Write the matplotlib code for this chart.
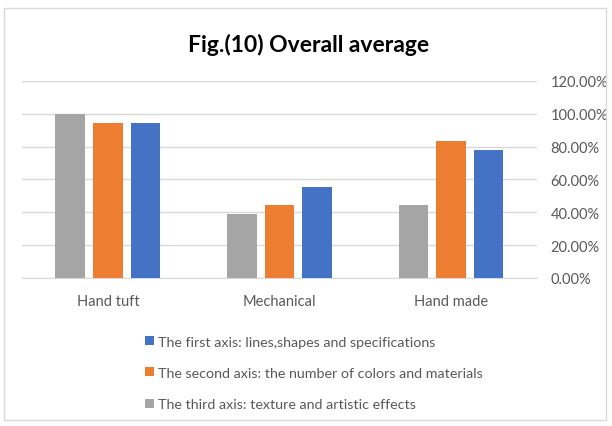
import matplotlib
matplotlib.use("Agg")
import matplotlib.pyplot as plt
import numpy as np
from matplotlib.patches import Rectangle
from matplotlib.ticker import FuncFormatter

categories = ["Hand tuft", "Mechanical", "Hand made"]
third_axis = [100.0, 38.8, 44.6]
second_axis = [94.2, 44.6, 83.4]
first_axis = [94.2, 55.5, 77.7]
series_names = [
    "The third axis: texture and artistic effects",
    "The second axis: the number of colors and materials",
    "The first axis: lines,shapes and specifications",
]
colors = ["#A5A5A5", "#ED7D31", "#4472C4"]
yticks = [0, 20, 40, 60, 80, 100, 120]

plt.rcParams["font.family"] = ["Lato", "DejaVu Sans"]

fig = plt.figure(figsize=(6.12, 4.27), dpi=100)
fig.patches.append(Rectangle((0.006, 0.015), 0.985, 0.965, transform=fig.transFigure,
                             fill=False, edgecolor="#D9D9D9", linewidth=1.0))
ax = fig.add_axes([0.036, 0.347, 0.841, 0.461])

x = np.arange(len(categories))
width = 0.172
step = 0.219
bars = []
for i, (vals, c) in enumerate(zip([third_axis, second_axis, first_axis], colors)):
    b = ax.bar(x + (i - 1) * step, vals, width, color=c, label=series_names[i], zorder=3)
    bars.append(b)

ax.set_xlim(-0.5, 2.5)
ax.set_ylim(0, 120)
ax.set_yticks(yticks)
ax.yaxis.set_major_formatter(FuncFormatter(lambda v, p: f"{v:.2f}%"))
ax.yaxis.tick_right()
ax.grid(axis="y", color="#D9D9D9", linewidth=1.0, zorder=0)
for s in ["top", "left", "right"]:
    ax.spines[s].set_visible(False)
ax.spines["bottom"].set_color("#D9D9D9")
ax.tick_params(axis="y", length=0, labelsize=10.5, labelcolor="#595959", pad=10)
ax.tick_params(axis="x", length=0, labelsize=10.5, labelcolor="#595959", pad=12)
ax.set_xticks(x)
ax.set_xticklabels(categories)

fig.text(0.505, 0.895, "Fig.(10) Overall average", ha="center", va="center",
         fontsize=16.5, fontweight="bold", color="#000000")

handles = [bars[2], bars[1], bars[0]]
labels = [series_names[2], series_names[1], series_names[0]]
leg = fig.legend(handles, labels, loc="upper left", bbox_to_anchor=(0.228, 0.225),
                 frameon=False, fontsize=10.3, labelcolor="#595959",
                 handlelength=0.6, handleheight=0.6, handletextpad=0.3,
                 labelspacing=1.35, borderaxespad=0)

fig.savefig("out.png", dpi=100)
